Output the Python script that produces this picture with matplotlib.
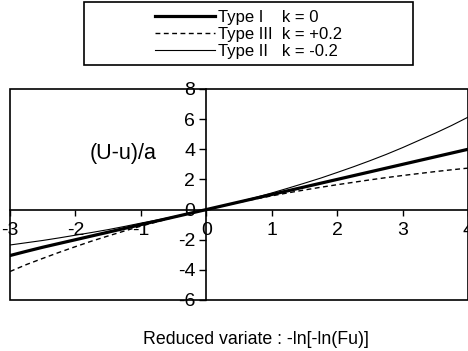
import matplotlib
matplotlib.use("Agg")
import matplotlib.pyplot as plt
from matplotlib.patches import Rectangle

plt.rcParams["font.family"] = ["Liberation Sans", "DejaVu Sans"]

# reduced variate and the three curves
x = [-3, -2.75, -2.5, -2.25, -2, -1.75, -1.5, -1.25, -1, -0.75, -0.5, -0.25, 0,
     0.25, 0.5, 0.75, 1, 1.25, 1.5, 1.75, 2, 2.25, 2.5, 2.75, 3, 3.25, 3.5, 3.75, 4]
type1 = [-3.05, -2.77, -2.5, -2.25, -2, -1.75, -1.5, -1.25, -1, -0.75, -0.5, -0.25, 0,
         0.25, 0.5, 0.75, 1, 1.25, 1.5, 1.75, 2, 2.25, 2.5, 2.75, 3, 3.25, 3.5, 3.75, 4]
type3 = [-4.11, -3.65, -3.24, -2.84, -2.46, -2.09, -1.75, -1.42, -1.1, -0.81, -0.52, -0.25, 0,
         0.24, 0.48, 0.7, 0.91, 1.11, 1.3, 1.48, 1.65, 1.81, 1.97, 2.12, 2.26, 2.39, 2.52, 2.64, 2.75]
type2 = [-2.35, -2.2, -2.05, -1.88, -1.7, -1.52, -1.33, -1.12, -0.9, -0.69, -0.47, -0.24, 0,
         0.25, 0.52, 0.8, 1.1, 1.42, 1.75, 2.09, 2.46, 2.84, 3.24, 3.66, 4.11, 4.59, 5.07, 5.58, 6.13]

labels = ["Type I    k = 0", "Type III  k = +0.2", "Type II   k = -0.2"]
xticks = [-3, -2, -1, 0, 1, 2, 3, 4]
yticks = [-6, -4, -2, 0, 2, 4, 6, 8]

fig = plt.figure(figsize=(4.68, 3.51), dpi=100)
ax = fig.add_axes([10 / 468, 1 - 300 / 351, 458 / 468, 211 / 351])

l1, = ax.plot(x, type1, color="black", lw=2.3, zorder=4)
l3, = ax.plot(x, type3, color="black", lw=1.0, dashes=(3.5, 2.5), zorder=3)
l2, = ax.plot(x, type2, color="black", lw=0.8, zorder=3)

ax.set_xlim(-3, 3.94)
ax.set_ylim(-6, 8)

for s in ["top", "right"]:
    ax.spines[s].set_visible(False)
ax.spines["left"].set_position(("data", 0))
ax.spines["bottom"].set_position(("data", 0))
for s in ["left", "bottom"]:
    ax.spines[s].set_linewidth(1.2)
# outer frame
ax.add_patch(Rectangle((0, 0), 1, 1, transform=ax.transAxes, fill=False,
                       lw=1.2, edgecolor="black", clip_on=False, zorder=5))

ax.set_xticks(xticks)
ax.set_yticks(yticks)
ax.set_xticklabels([str(t) for t in xticks])
ax.set_yticklabels([str(t) for t in yticks])
ax.tick_params(axis="x", direction="out", length=4, width=1, pad=5, labelsize=14)
ax.tick_params(axis="y", direction="out", length=5, width=1, pad=3, labelsize=14)

ax.text(-1.27, 3.75, "(U-u)/a", fontsize=15.5, ha="center", va="center")

fig.text(256 / 468, 1 - 340 / 351, "Reduced variate : -ln[-ln(Fu)]",
         fontsize=12.8, ha="center", va="center")

# legend in a wide box above the plot
fig.patches.append(Rectangle((84 / 468, 1 - 65 / 351), 329 / 468, 63 / 351,
                             transform=fig.transFigure, fill=False,
                             lw=1.2, edgecolor="black"))
fig.legend([l1, l3, l2], labels, loc="upper left",
           bbox_to_anchor=(144 / 468, 1 + 1 / 351), frameon=False,
           fontsize=12, handlelength=3.6, handletextpad=0.2,
           labelspacing=0.12, borderpad=0.15)

fig.savefig("out.png", dpi=100)
